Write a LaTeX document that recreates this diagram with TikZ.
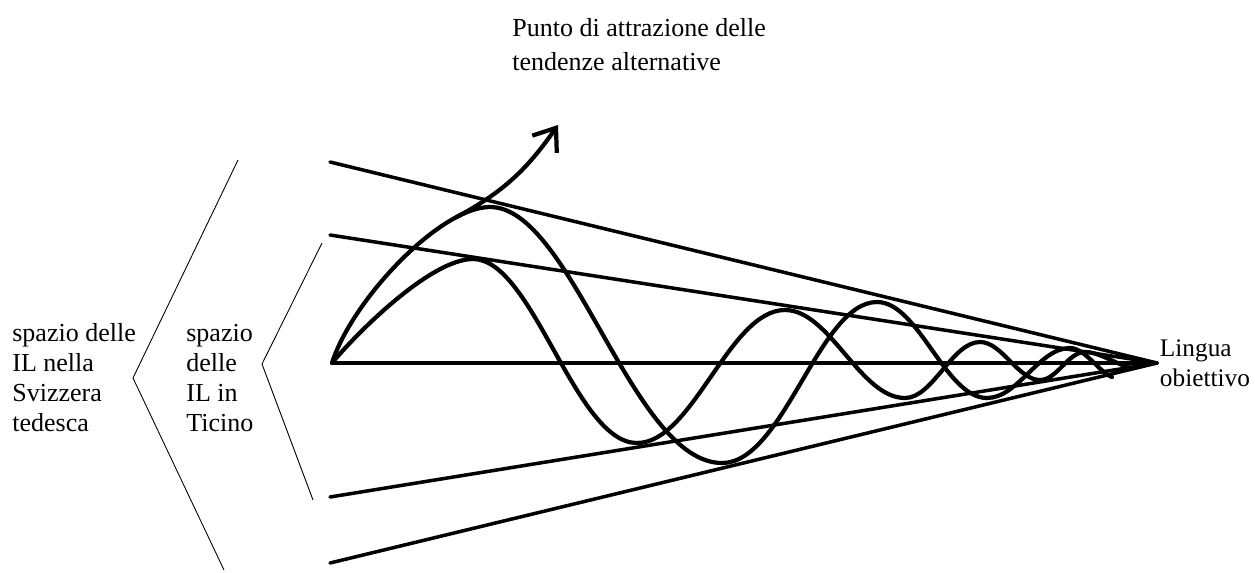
\documentclass[tikz,border=0pt]{standalone}
\usepackage{fontspec}
\setmainfont{Liberation Serif}
\usepackage{tikz}
\usetikzlibrary{arrows.meta,positioning}

\begin{document}
\begin{tikzpicture}[
  x=0.02cm, y=-0.02cm,
  lbl/.style={font=\fontsize{14.8}{17.1}\selectfont, align=left, inner sep=0pt},
  cone/.style={line width=2pt, line cap=round},
  wave/.style={line width=2.4pt, line cap=round, line join=round},
  brk/.style={line width=0.5pt}
]
\useasboundingbox (0,0) rectangle (1255,572);
\coordinate (o) at (332,363);
\coordinate (goal) at (1157,363);
\coordinate (uo) at (330,162);
\coordinate (ui) at (330,235);
\coordinate (li) at (330,497);
\coordinate (lo) at (330,563);
\coordinate (outv) at (133,378);
\coordinate (inv) at (262,364);
\draw[cone] (uo) -- (goal);
\draw[cone] (ui) -- (goal);
\draw[cone] (o) -- (goal);
\draw[cone] (li) -- (goal);
\draw[cone] (lo) -- (goal);
\draw[brk] (238,160) -- (outv) -- (224,570);
\draw[brk] (322,243) -- (inv) -- (313,500);
% outer wave
\draw[wave] (o) .. controls (352,300) and (440,207) .. (490,207) coordinate[pos=0.8] (split)
  .. controls +(82,0) and +(-90,0) .. (722,463)
  .. controls +(62,0) and +(-58,0) .. (877,302)
  .. controls +(42,0) and +(-42,0) .. (987,398)
  .. controls +(31,0) and +(-31,0) .. (1070,348)
  .. controls +(15,0) and +(-12,-4) .. (1112,377);
% inner wave
\draw[wave] (o) .. controls (355,335) and (430,259) .. (473,259)
  .. controls +(60,0) and +(-62,0) .. (637,443)
  .. controls +(56,0) and +(-56,0) .. (785,310)
  .. controls +(45,0) and +(-45,0) .. (905,398)
  .. controls +(28,0) and +(-28,0) .. (980,342)
  .. controls +(22,0) and +(-22,0) .. (1040,380)
  .. controls +(17,0) and +(-17,0) .. (1085,352)
  .. controls +(15,0) and +(-15,-3) .. (1132,368);
% escape arrow
\draw[wave, -{Straight Barb[length=4mm 0, width=6mm]}]
  (split) to[out=28, in=235] (558,125);
\node[lbl, anchor=west] (outer) at (12,378)
  {spazio delle\\IL nella\\Svizzera\\tedesca};
\node[lbl, anchor=west] (inner) at (186,378)
  {spazio\\delle\\IL in\\Ticino};
\node[lbl, right=1.5pt of goal, font=\fontsize{14.4}{17.1}\selectfont] (target) {Lingua\\obiettivo};
\node[lbl, anchor=west, font=\fontsize{14.8}{19.3}\selectfont] (attr) at (512,45)
  {Punto di attrazione delle\\tendenze alternative};
\end{tikzpicture}
\end{document}
